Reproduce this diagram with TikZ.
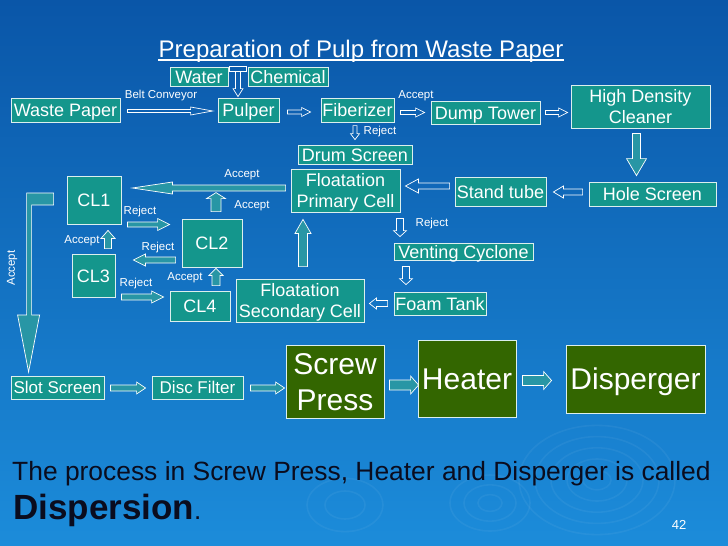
\documentclass[tikz,border=0pt]{standalone}
\usepackage{fontspec}
\setmainfont{Liberation Sans}
\usetikzlibrary{calc}

\definecolor{slidetop}{RGB}{10,86,168}
\definecolor{slidebottom}{RGB}{28,140,218}
\definecolor{boxteal}{RGB}{20,150,140}
\definecolor{boxgreen}{RGB}{51,102,0}
\definecolor{arrowfill}{RGB}{40,150,165}
\definecolor{textdark}{RGB}{10,12,30}

\newcommand{\fsz}[1]{\fontsize{#1}{#1}\selectfont}

% block arrow: [style]{from}{to}{half shaft}{half head}{head length}
\newcommand{\flowarrow}[6][]{%
  \path #2 coordinate (fa) #3 coordinate (ta);
  \draw[arrowline,#1] let \p1=($(ta)-(fa)$), \n1={atan2(\y1,\x1)}, \n2={veclen(\x1,\y1)} in
    [shift={(fa)},rotate=\n1]
    (0pt,-#4pt) -- ({\n2-#6pt},-#4pt) -- ({\n2-#6pt},-#5pt) -- ({\n2-0pt},0pt)
    -- ({\n2-#6pt},#5pt) -- ({\n2-#6pt},#4pt) -- (0pt,#4pt) -- cycle;}

\begin{document}
\begin{tikzpicture}[x=1pt,y=-1pt,
  box/.style={draw=white!85!boxteal, line width=0.8pt, fill=boxteal, text=white,
    inner sep=0pt, align=center, font=\fsz{18}, text height=13pt, text depth=0pt},
  twoline/.style={font=\fontsize{18}{#1}\selectfont, text height=13pt+#1},
  gbox/.style={box, fill=boxgreen, font=\fontsize{30}{36}\selectfont, text height=21.5pt},
  tag/.style={text=white, inner sep=0pt, font=\fsz{11.5}},
  arrowline/.style={draw=white, line width=0.7pt, line join=miter, fill=arrowfill},
  hollow/.style={fill=none},
  ripple/.style={draw=white, opacity=0.05, line width=1.6pt}]

  % slide background
  \shade[top color=slidetop, bottom color=slidebottom] (0,0) rectangle (728,546);
  \useasboundingbox (0,0) rectangle (728,546);
  \foreach \r in {14,30,46,62,78}
    \draw[ripple] (597,480) ellipse ({\r*1pt} and {\r*0.7pt});
  \foreach \r in {12,26,40}
    \draw[ripple] (490,503) ellipse ({\r*1pt} and {\r*0.7pt});
  \foreach \r in {20,38}
    \draw[ripple] (345,505) ellipse ({\r*1pt} and {\r*0.7pt});

  % title
  \node[text=white, inner sep=0pt, font=\fsz{24}, anchor=base] (title) at (361,57)
    {Preparation of Pulp from Waste Paper};
  \draw[white, line width=1.4pt] ($(title.base west)+(0,3)$) -- ($(title.base east)+(0,3)$);

  % boxes
  \node[box, minimum width=58pt, minimum height=19pt] (water) at (199,76.5) {Water};
  \node[box, minimum width=80pt, minimum height=19pt] (chem) at (288,76.5) {Chemical};
  \node[box, minimum width=109pt, minimum height=24pt] (waste) at (65.5,110) {Waste Paper};
  \node[box, minimum width=61pt, minimum height=24pt] (pulper) at (248.5,110) {Pulper};
  \node[box, minimum width=73pt, minimum height=24pt] (fiber) at (357.5,110) {Fiberizer};
  \node[box, minimum width=109pt, minimum height=23pt] (dump) at (485.5,112.5) {Dump Tower};
  \node[box, twoline=21.5pt, minimum width=139pt, minimum height=43pt]
    (hdc) at (640.5,106.5) {High Density\\Cleaner};
  \node[box, minimum width=127pt, minimum height=24pt] (hole) at (652.5,194) {Hole Screen};
  \node[box, minimum width=91pt, minimum height=29pt] (stand) at (500.5,191.5) {Stand tube};
  \node[box, minimum width=114pt, minimum height=19pt] (drum) at (355,154.5) {Drum Screen};
  \node[box, twoline=20.5pt, minimum width=109pt, minimum height=43pt]
    (fpc) at (345.5,190.5) {Floatation\\Primary Cell};
  \node[box, minimum width=54pt, minimum height=48pt] (cl1) at (94,200) {CL1};
  \node[box, minimum width=60pt, minimum height=48pt] (cl2) at (212,243) {CL2};
  \node[box, minimum width=43pt, minimum height=43pt] (cl3) at (93.5,275.5) {CL3};
  \node[box, minimum width=60pt, minimum height=30pt] (cl4) at (200,306) {CL4};
  \node[box, twoline=21pt, minimum width=128pt, minimum height=43pt]
    (fsc) at (300,300.5) {Floatation\\Secondary Cell};
  \node[box, minimum width=139pt, minimum height=17pt] (vent) at (463.5,251.5) {Venting Cyclone};
  \node[box, minimum width=92pt, minimum height=23pt] (foam) at (440,303.5) {Foam Tank};
  \node[box, minimum width=93pt, minimum height=23pt, font=\fsz{17}, text height=12.2pt]
    (slot) at (57.5,387.5) {Slot Screen};
  \node[box, minimum width=91pt, minimum height=23pt, font=\fsz{17}, text height=12.2pt]
    (disc) at (197.5,387.5) {Disc Filter};
  \node[gbox, text height=57.5pt, minimum width=98pt, minimum height=73pt] (screw) at (335,381.5) {Screw\\Press};
  \node[gbox, minimum width=98pt, minimum height=77pt] (heater) at (467,378.5) {Heater};
  \node[gbox, minimum width=139pt, minimum height=68pt] (disp) at (635.5,379) {Disperger};

  % top line
  \coordinate (wc) at ($(water.north east)!0.5!(chem.north west)$);
  \draw[arrowline, hollow] ($(water.north east)+(1,0)$) rectangle ($(chem.north west)+(-1,5)$);
  \flowarrow[hollow]{($(wc)+(0,5)$)}{($(wc |- pulper.north)+(0,-1)$)}{2.5}{5}{8}
  \flowarrow[hollow]{($(waste.east)+(7,1)$)}{($(pulper.west)+(-5,1)$)}{1.5}{4}{22}
  \flowarrow[hollow]{($(pulper.east)+(8,2)$)}{($(fiber.west)+(-10,2)$)}{2}{4.5}{9}
  \flowarrow[hollow]{($(fiber.east)+(6,2.5)$)}{($(dump.west)+(-6,0)$)}{2}{4.5}{9}
  \flowarrow[hollow]{($(dump.east)+(5,0)$)}{($(hdc.west)+(-3,6)$)}{2}{4.5}{9}
  \flowarrow[hollow]{($(drum.north)+(0,-19)$)}{($(drum.north)+(0,-5)$)}{2}{4.5}{6}
  \flowarrow{($(hdc.south)+(-4,5)$)}{($(hdc.south |- hole.north)+(-4,-6)$)}{4}{10}{17}

  % floatation loop
  \flowarrow[hollow]{($(hole.west)+(-6,-2)$)}{($(stand.east)+(7,0.5)$)}{3}{6}{10}
  \flowarrow[hollow]{($(stand.west)+(-5,-5.5)$)}{($(fpc.east)+(5,-4.5)$)}{3}{7}{13}
  \flowarrow{($(fpc.west)+(-5,-2.5)$)}{($(cl1.east)+(11,-12)$)}{3}{6}{40}
  \flowarrow{($(cl2.north)+(4,-7)$)}{($(cl2.north)+(4,-26)$)}{5}{9.5}{6}
  \flowarrow{($(cl1.east)+(6,24.5)$)}{($(cl2.west)+(-12,-18.5)$)}{2.5}{6}{12}
  \flowarrow{($(cl3.north)+(14.5,-5)$)}{($(cl1.south)+(14,6)$)}{3.5}{7}{8}
  \flowarrow{($(cl2.west)+(-6,17)$)}{($(cl3.east)+(18,-15.5)$)}{3}{6}{12}
  \flowarrow{($(cl3.east)+(6,21.5)$)}{($(cl4.west)+(-6,-9)$)}{3}{6}{12}
  \flowarrow{($(cl4.north)+(16,-5)$)}{($(cl2.south)+(4,1)$)}{4}{7}{7}
  \flowarrow{($(fsc.north)+(3,-12)$)}{($(fpc.south)+(-42.5,7)$)}{4.5}{8}{14}
  \flowarrow[hollow]{($(fpc.south)+(54.5,6)$)}{($(vent.north)+(-63.5,-6)$)}{3.5}{6.5}{6}
  \flowarrow[hollow]{($(vent.south)+(-57.5,6)$)}{($(foam.north)+(-34,-7)$)}{3.5}{6.5}{6}
  \flowarrow[hollow]{($(foam.west)+(-6,0)$)}{($(fsc.east)+(5,3)$)}{3}{5.5}{7}

  % accept line down to slot screen
  \coordinate (lstart) at ($(cl1.west)+(-13,-7)$);
  \draw[arrowline] (lstart) -- ++(-27,0) -- ++(0,122) -- ++(-9,0) -- ++(11,57)
    -- ++(11,-57) -- ++(-8,0) -- ++(0,-110) -- ++(22,0) -- cycle;

  % dispersion line
  \flowarrow{($(slot.east)+(6,0.5)$)}{($(disc.west)+(-6,0.5)$)}{3}{6}{9}
  \flowarrow{($(disc.east)+(7,0.5)$)}{($(screw.west)+(-1,6.5)$)}{3}{6}{9}
  \flowarrow{($(screw.east)+(5,3.5)$)}{($(heater.west)+(1,6.5)$)}{5}{9}{8}
  \flowarrow{($(heater.east)+(6,2)$)}{($(disp.west)+(-14,1.5)$)}{5}{9}{8}

  % labels
  \node[tag] (belt) at (161,96) {Belt Conveyor};
  \node[tag] (acc1) at (416,96) {Accept};
  \node[tag] (rej1) at (380,132) {Reject};
  \node[tag] (acc2) at (242,175) {Accept};
  \node[tag] (acc3) at (252,206) {Accept};
  \node[tag] (rej2) at (140,212) {Reject};
  \node[tag] (acc4) at (82,241) {Accept};
  \node[tag] (rej3) at (158,248) {Reject};
  \node[tag] (rej4) at (136,284) {Reject};
  \node[tag] (acc5) at (185,278) {Accept};
  \node[tag] (rej5) at (432,224) {Reject};
  \node[tag, rotate=90] (acc6) at (12,268) {Accept};

  % note
  \node[anchor=base west, inner sep=0pt, text=textdark, font=\fsz{26.4}] (note) at (12,480)
    {The process in Screw Press, Heater and Disperger is called};
  \node[anchor=base west, inner sep=0pt, text=textdark] (dispersion) at (13,519)
    {{\fsz{35}\bfseries Dispersion}{\fsz{26}.}};
  \node[tag, font=\fsz{13}] (pagenum) at (679,525) {42};
\end{tikzpicture}
\end{document}
